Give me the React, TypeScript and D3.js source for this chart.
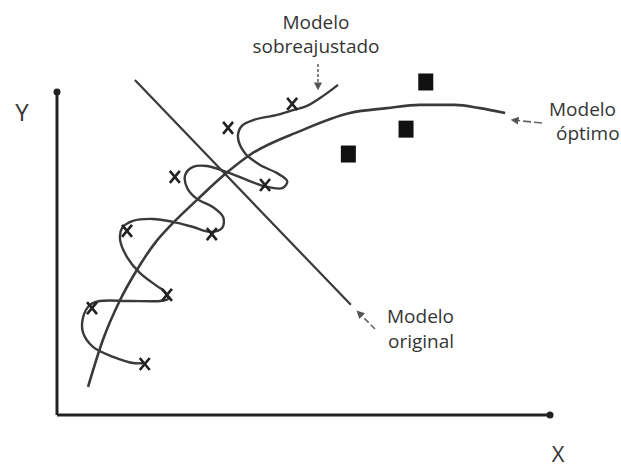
import React from "react";
import * as d3 from "d3";

// Training observations (X markers), in axis units 0..10
const trainX = [4.77, 3.47, 2.39, 4.22, 1.42, 3.14, 2.23, 0.71, 1.78];
const trainY = [9.63, 8.89, 7.37, 7.12, 5.70, 5.60, 3.72, 3.31, 1.58];

// New observations (filled squares)
const testX = [7.48, 7.08, 5.91];
const testY = [10.31, 8.85, 8.08];

// Original (linear) model: two end points
const originalX = [1.58, 5.96];
const originalY = [10.37, 3.41];

// Optimal model: smooth concave curve
const optimalX = [0.63, 0.93, 1.28, 1.62, 1.99, 2.35, 2.84, 3.41, 3.91, 4.93, 5.94, 6.69, 7.36, 8.07, 8.58, 9.09];
const optimalY = [0.87, 2.32, 3.56, 4.49, 5.33, 5.94, 6.66, 7.46, 8.05, 8.79, 9.35, 9.50, 9.60, 9.60, 9.50, 9.35];

// Overfitted model: wiggly path threading every training point
const overfitX = [1.785, 1.54, 1.14, 0.73, 0.53, 0.53, 0.67, 0.87, 1.48, 2.09, 2.25, 2.19, 2.03, 1.68, 1.42, 1.28, 1.32, 1.54, 1.95, 2.35, 2.76, 3.10, 3.35, 3.37, 3.16, 2.84, 2.64, 2.60, 2.76, 3.04, 3.45, 3.85, 4.26, 4.58, 4.67, 4.46, 4.12, 3.81, 3.67, 3.75, 3.98, 4.46, 4.79, 5.07, 5.40, 5.70];
const overfitY = [1.61, 1.61, 1.80, 2.11, 2.54, 3.03, 3.41, 3.53, 3.53, 3.53, 3.59, 3.81, 3.99, 4.40, 4.89, 5.42, 5.79, 6.01, 6.07, 5.98, 5.82, 5.67, 5.79, 6.13, 6.44, 6.69, 7.03, 7.43, 7.68, 7.71, 7.52, 7.28, 7.06, 7.03, 7.24, 7.49, 7.74, 8.11, 8.61, 8.95, 9.13, 9.29, 9.44, 9.57, 9.88, 10.22];

const W = 621;
const H = 470;
const INK = "#3a3a3a";
const TEXT = "#353535";
const FONT = "'Open Sans', 'Noto Sans', sans-serif";

const x = d3.scaleLinear().domain([0, 10]).range([57, 550]);
const y = d3.scaleLinear().domain([0, 10]).range([415, 92]);

type P = [number, number];
const zip = (xs: number[], ys: number[]): P[] => xs.map((v, i) => [v, ys[i]]);

const lineStraight = d3.line<P>().x(d => x(d[0])).y(d => y(d[1]));
const lineOptimal = d3.line<P>().x(d => x(d[0])).y(d => y(d[1])).curve(d3.curveMonotoneX);
const lineOverfit = d3.line<P>().x(d => x(d[0])).y(d => y(d[1])).curve(d3.curveCatmullRom.alpha(0.5));

function Label({ x: lx, y: ly, anchor = "start", children }: { x: number; y: number; anchor?: string; children: string }) {
  return (
    <text x={lx} y={ly} fontFamily={FONT} fontSize={19} fill={TEXT} textAnchor={anchor}>
      {children}
    </text>
  );
}

export default function App() {
  const train = zip(trainX, trainY);
  const test = zip(testX, testY);
  return (
    <svg width={W} height={H} style={{ position: "absolute", left: 0, top: 0, background: "#fff" }}>
      <defs>
        <marker id="head" viewBox="0 0 10 10" refX="2" refY="5" markerWidth="5" markerHeight="5" orient="auto-start-reverse">
          <path d="M0,0 L10,5 L0,10 z" fill="#555" />
        </marker>
      </defs>

      {/* axes */}
      <line x1={x(0)} y1={y(0)} x2={x(0)} y2={y(10)} stroke="#222" strokeWidth={3} />
      <line x1={x(0)} y1={y(0)} x2={x(10)} y2={y(0)} stroke="#222" strokeWidth={3} />
      <circle cx={x(0)} cy={y(10)} r={3.5} fill="#222" />
      <circle cx={x(10)} cy={y(0)} r={3.5} fill="#222" />
      <text x={22} y={121} fontFamily={FONT} fontSize={24} fill={TEXT} textAnchor="middle">Y</text>
      <text x={558} y={462} fontFamily={FONT} fontSize={22} fill={TEXT} textAnchor="middle">X</text>

      {/* models */}
      <path d={lineStraight(zip(originalX, originalY)) || ""} fill="none" stroke={INK} strokeWidth={2.2} />
      <path d={lineOptimal(zip(optimalX, optimalY)) || ""} fill="none" stroke={INK} strokeWidth={2.6} />
      <path d={lineOverfit(zip(overfitX, overfitY)) || ""} fill="none" stroke={INK} strokeWidth={2.4} strokeLinejoin="round" />

      {/* training points */}
      {train.map((d, i) => (
        <path key={i} transform={`translate(${x(d[0])},${y(d[1])})`} d="M-5,-6L5,6M5,-6L-5,6" stroke="#222" strokeWidth={2.6} fill="none" />
      ))}

      {/* new points */}
      {test.map((d, i) => (
        <rect key={i} x={x(d[0]) - 7.5} y={y(d[1]) - 8.5} width={15} height={17} fill="#111" />
      ))}

      {/* annotations */}
      <Label x={316} y={29} anchor="middle">Modelo</Label>
      <Label x={316} y={53} anchor="middle">sobreajustado</Label>
      <line x1={318} y1={64} x2={318} y2={84} stroke="#666" strokeWidth={1.6} strokeDasharray="3,2" markerEnd="url(#head)" />

      <Label x={549} y={116}>Modelo</Label>
      <Label x={556} y={140}>óptimo</Label>
      <line x1={542} y1={123} x2={517} y2={120.5} stroke="#666" strokeWidth={1.6} strokeDasharray="8,3" markerEnd="url(#head)" />

      <Label x={387} y={323}>Modelo</Label>
      <Label x={388} y={348}>original</Label>
      <line x1={375} y1={329} x2={361} y2={315} stroke="#666" strokeWidth={1.6} strokeDasharray="6,3" markerEnd="url(#head)" />
    </svg>
  );
}
